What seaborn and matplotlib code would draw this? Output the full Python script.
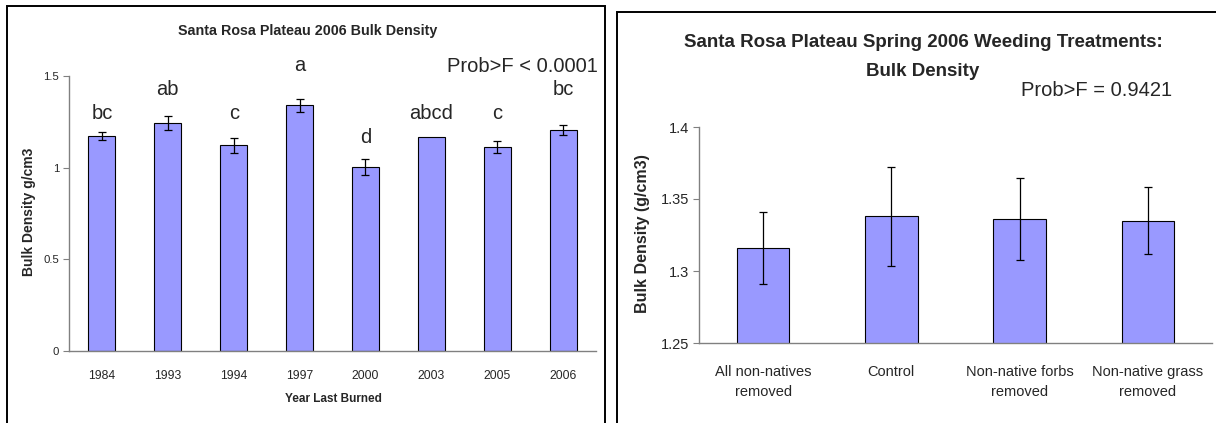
import numpy as np
import matplotlib
matplotlib.use("Agg")
import matplotlib.pyplot as plt
import seaborn as sns
from matplotlib.patches import Rectangle
from matplotlib.ticker import FixedLocator

# data
years = ["1984", "1993", "1994", "1997", "2000", "2003", "2005", "2006"]
bd_year = [1.173, 1.244, 1.122, 1.340, 1.005, 1.165, 1.115, 1.204]
bd_year_err = [0.022, 0.040, 0.040, 0.036, 0.045, np.nan, 0.033, 0.027]
letters = ["bc", "ab", "c", "a", "d", "abcd", "c", "bc"]

treatments = ["All non-natives\nremoved", "Control",
              "Non-native forbs\nremoved", "Non-native grass\nremoved"]
bd_trt = [1.316, 1.338, 1.336, 1.335]
bd_trt_err = [0.025, 0.0345, 0.0287, 0.023]

sns.set_style("white")
plt.rcParams["font.family"] = ["Liberation Sans", "DejaVu Sans"]

W, H = 1216, 423
fig = plt.figure(figsize=(W / 100, H / 100), dpi=100)
bar_col = "#9999FF"
axis_col = "#808080"


def px(x0, y0, x1, y1):
    # pixel box -> figure rect
    return [x0 / W, 1 - y1 / H, (x1 - x0) / W, (y1 - y0) / H]


def excel_axes(ax, n):
    ax.set_xlim(-0.5, n - 0.5)
    for s in ["top", "right"]:
        ax.spines[s].set_visible(False)
    for s in ["left", "bottom"]:
        ax.spines[s].set_color(axis_col)
        ax.spines[s].set_linewidth(1.0)
    ax.xaxis.set_minor_locator(FixedLocator(np.arange(-0.5, n, 1.0)))
    ax.tick_params(axis="x", which="major", length=0)
    ax.tick_params(axis="x", which="minor", length=4, color=axis_col, direction="out")
    ax.tick_params(axis="y", length=4, color=axis_col, direction="out", left=True)
    ax.set_xlabel("")
    ax.set_ylabel("")


# ---- left chart ----
ax1 = fig.add_axes(px(69, 76, 596, 351))
sns.barplot(x=years, y=bd_year, color=bar_col, saturation=1, width=0.41,
            edgecolor="black", linewidth=0.8, errorbar=None, ax=ax1)
ax1.errorbar(range(len(years)), bd_year, yerr=bd_year_err, fmt="none",
             ecolor="black", elinewidth=0.9, capsize=3, capthick=0.9)
ax1.set_ylim(0, 1.5)
ax1.set_yticks([0, 0.5, 1, 1.5])
ax1.set_yticklabels(["0", "0.5", "1", "1.5"])
excel_axes(ax1, len(years))
ax1.tick_params(axis="x", labelsize=8.7, pad=14)
ax1.tick_params(axis="y", labelsize=8.2, pad=3)
letter_y = [1.265, 1.397, 1.265, 1.529, 1.136, 1.265, 1.265, 1.397]
for i, (lab, yy) in enumerate(zip(letters, letter_y)):
    ax1.text(i, yy, lab, ha="center", va="baseline", fontsize=14.5, clip_on=False)

fig.text(308 / W, 1 - 35 / H, "Santa Rosa Plateau 2006 Bulk Density",
         ha="center", va="baseline", fontsize=10.3, fontweight="bold")
fig.text(598 / W, 1 - 72 / H, "Prob>F < 0.0001", ha="right", va="baseline",
         fontsize=14.5)
fig.text(333 / W, 1 - 399 / H, "Year Last Burned", ha="center", va="center",
         fontsize=8.5, fontweight="bold")
fig.text(29 / W, 1 - 212 / H, "Bulk Density g/cm3", ha="center", va="center",
         rotation=90, fontsize=10, fontweight="bold")

# ---- right chart ----
ax2 = fig.add_axes(px(699, 127, 1212, 343))
sns.barplot(x=treatments, y=bd_trt, color=bar_col, saturation=1, width=0.41,
            edgecolor="black", linewidth=0.8, errorbar=None, ax=ax2)
ax2.errorbar(range(len(treatments)), bd_trt, yerr=bd_trt_err, fmt="none",
             ecolor="black", elinewidth=0.9, capsize=3, capthick=0.9)
ax2.set_ylim(1.25, 1.4)
ax2.set_yticks([1.25, 1.3, 1.35, 1.4])
ax2.set_yticklabels(["1.25", "1.3", "1.35", "1.4"])
excel_axes(ax2, len(treatments))
ax2.tick_params(axis="x", labelsize=10.5, pad=16)
ax2.tick_params(axis="y", labelsize=10.5, pad=3)
for t in ax2.get_xticklabels():
    t.set_linespacing(1.55)

fig.text(923 / W, 1 - 47 / H, "Santa Rosa Plateau Spring 2006 Weeding Treatments:",
         ha="center", va="baseline", fontsize=13.5, fontweight="bold")
fig.text(923 / W, 1 - 76 / H, "Bulk Density",
         ha="center", va="baseline", fontsize=13.5, fontweight="bold")
fig.text(1172 / W, 1 - 96 / H, "Prob>F = 0.9421", ha="right", va="baseline",
         fontsize=14.5)
fig.text(643 / W, 1 - 234 / H, "Bulk Density (g/cm3)", ha="center", va="center",
         rotation=90, fontsize=11.5, fontweight="bold")

# chart frames (cut off at the bottom of the image, as in the source)
fig.add_artist(Rectangle((7 / W, -0.1), 598 / W, 1.1 - 6 / H, transform=fig.transFigure,
                         fill=False, edgecolor="black", linewidth=1.4))
fig.add_artist(Rectangle((617 / W, -0.1), 1.0, 1.1 - 12 / H, transform=fig.transFigure,
                         fill=False, edgecolor="black", linewidth=1.4))

fig.savefig("out.png", dpi=100)
